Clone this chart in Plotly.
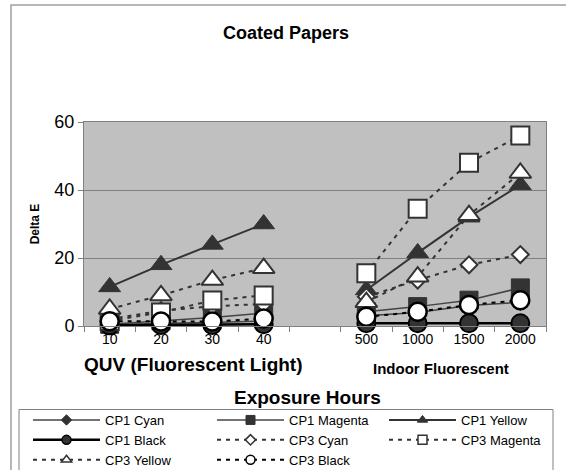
import plotly.graph_objects as go

categories = ["10", "20", "30", "40", " ", "500", "1000", "1500", "2000"]
cp1_cyan = [0.3, 0.8, 1.0, 1.5, None, 3.0, 4.0, 6.0, 7.0]
cp1_magenta = [0.5, 1.5, 2.5, 3.8, None, 4.2, 5.7, 7.6, 11.2]
cp1_yellow = [11.5, 18.0, 24.0, 30.0, None, 10.6, 21.5, 32.0, 41.5]
cp1_black = [0.2, 0.3, 0.3, 0.5, None, 0.8, 0.8, 0.8, 0.8]
cp3_cyan = [2.0, 4.5, 5.8, 6.5, None, 8.6, 13.5, 18.0, 21.0]
cp3_magenta = [1.5, 4.0, 7.5, 9.0, None, 15.5, 34.5, 48.0, 56.0]
cp3_yellow = [5.0, 9.0, 13.5, 17.0, None, 7.0, 14.5, 32.6, 45.0]
cp3_black = [1.4, 1.3, 1.3, 2.2, None, 2.7, 4.2, 6.2, 7.6]
y_ticks = [0, 20, 40, 60]

FONT = "Liberation Sans, Arial, sans-serif"
DARK = "#333333"

W, H = 566, 470
L, R, T, B = 84, 20, 122, 144
PW, PH = W - L - R, H - T - B


def px_x(p):
    return (p - L) / PW


def px_y(p):
    return (H - B - p) / PH


DASH = "4px,5px"
# name, values, symbol, fill, edge colour, edge width, line colour, line width, dash, legend column
series = [
    ("CP1 Cyan", cp1_cyan, "diamond", DARK, DARK, 1, "#444444", 1.5, "solid", "legend"),
    ("CP1 Magenta", cp1_magenta, "square", DARK, DARK, 1, "#444444", 1.5, "solid", "legend2"),
    ("CP1 Yellow", cp1_yellow, "triangle-up", DARK, DARK, 1, DARK, 2, "solid", "legend3"),
    ("CP1 Black", cp1_black, "circle", DARK, "#000000", 2, "#000000", 2.5, "solid", "legend"),
    ("CP3 Cyan", cp3_cyan, "diamond", "white", DARK, 2, DARK, 2, DASH, "legend2"),
    ("CP3 Magenta", cp3_magenta, "square", "white", DARK, 2, DARK, 2, DASH, "legend3"),
    ("CP3 Yellow", cp3_yellow, "triangle-up", "white", DARK, 2, DARK, 2, DASH, "legend"),
    ("CP3 Black", cp3_black, "circle", "white", "#000000", 2.5, "#000000", 2, DASH, "legend2"),
]
plot_size = {"diamond": 13, "square": 18, "triangle-up": 19, "circle": 18}
legend_size = {"diamond": 8, "square": 9, "triangle-up": 9, "circle": 9}

fig = go.Figure()
for name, vals, sym, fill, edge, ew, lc, lw, dash, _ in series:
    fig.add_trace(go.Scatter(
        x=categories, y=vals, name=name, mode="lines+markers", showlegend=False,
        marker=dict(symbol=sym, size=plot_size[sym], color=fill, line=dict(color=edge, width=ew)),
        line=dict(color=lc, width=lw, dash=dash),
        connectgaps=False, cliponaxis=False,
    ))

# legend entries (no data of their own), one legend per column
for name, vals, sym, fill, edge, ew, lc, lw, dash, leg in series:
    fig.add_trace(go.Scatter(
        x=[None], y=[None], name=name, mode="lines+markers", legend=leg,
        marker=dict(symbol=sym, size=legend_size[sym], color=fill,
                    line=dict(color=edge, width=min(ew, 1.5))),
        line=dict(color=lc, width=lw, dash=dash),
    ))

leg_common = dict(
    orientation="v", xanchor="left", yanchor="top",
    y=px_y(405), itemwidth=67, itemsizing="trace",
    font=dict(family=FONT, size=13, color="#000000"),
    bgcolor="rgba(0,0,0,0)", borderwidth=0, tracegroupgap=0,
)

fig.update_layout(
    width=W, height=H,
    margin=dict(l=L, r=R, t=T, b=B, autoexpand=False),
    paper_bgcolor="white",
    plot_bgcolor="#c0c0c0",
    font=dict(family=FONT, color="#000000"),
    showlegend=True,
    legend=dict(x=px_x(28), **leg_common),
    legend2=dict(x=px_x(212), **leg_common),
    legend3=dict(x=px_x(384), **leg_common),
    xaxis=dict(
        type="category",
        categoryorder="array",
        categoryarray=categories,
        range=[-0.5, len(categories) - 0.5],
        tickson="boundaries",
        ticks="outside",
        ticklen=5,
        tickcolor="#808080",
        showline=True,
        linecolor="#808080",
        linewidth=1,
        mirror=True,
        showgrid=False,
        zeroline=False,
        tickfont=dict(family=FONT, size=14, color="#000000"),
    ),
    yaxis=dict(
        range=[0, 60],
        tickvals=y_ticks,
        ticks="outside",
        ticklen=5,
        tickcolor="#808080",
        showline=True,
        linecolor="#808080",
        linewidth=1,
        mirror=True,
        showgrid=True,
        gridcolor="#808080",
        gridwidth=1,
        zeroline=False,
        tickfont=dict(family=FONT, size=18, color="#000000"),
        title=dict(text="<b>Delta E</b>", font=dict(family=FONT, size=12), standoff=12),
    ),
)

annotations = [
    dict(text="<b>Coated Papers</b>", x=px_x(286), y=px_y(33), size=18),
    dict(text="<b>QUV (Fluorescent Light)</b>", x=px_x(193), y=px_y(364), size=19),
    dict(text="<b>Indoor Fluorescent</b>", x=px_x(441), y=px_y(368), size=15),
    dict(text="<b>Exposure Hours</b>", x=px_x(307), y=px_y(397), size=19),
]
for a in annotations:
    fig.add_annotation(
        text=a["text"], x=a["x"], y=a["y"], xref="paper", yref="paper",
        xanchor="center", yanchor="middle", showarrow=False,
        font=dict(family=FONT, size=a["size"], color="#000000"),
    )

# outer chart frame
fig.add_shape(
    type="rect", xref="paper", yref="paper",
    x0=px_x(11), x1=px_x(600), y0=px_y(520), y1=px_y(5),
    line=dict(color="#a0a0a0", width=1.5), fillcolor="rgba(0,0,0,0)", layer="below",
)
# legend frame
fig.add_shape(
    type="rect", xref="paper", yref="paper",
    x0=px_x(19), x1=px_x(553), y0=px_y(500), y1=px_y(409.5),
    line=dict(color="#808080", width=1), fillcolor="rgba(0,0,0,0)", layer="below",
)

fig.write_html("out.html", config={"displayModeBar": False},
               post_script="document.body.style.margin='0';")
